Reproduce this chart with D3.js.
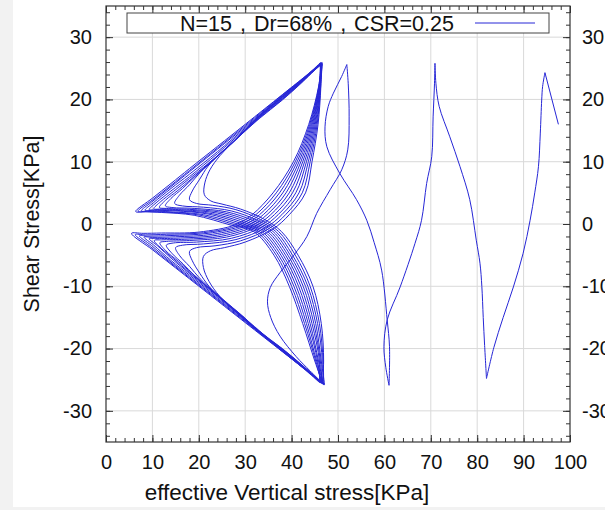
<!DOCTYPE html>
<html>
<head>
<meta charset="utf-8">
<script src="https://cdn.jsdelivr.net/npm/d3@7"></script>
<style>
  html, body { margin: 0; padding: 0; background: #f2f2f2; }
  svg { display: block; }
  text { font-family: "Liberation Sans", Arial, Helvetica, sans-serif; fill: #111; }
</style>
</head>
<body>
<svg id="chart" width="605" height="510"></svg>
<script>
// ---- labels and ticks ----
const legendLabel = "N=15 , Dr=68% , CSR=0.25";
const xTitle = "effective Vertical stress[KPa]";
const yTitle = "Shear Stress[KPa]";
const xTickValues = [0, 10, 20, 30, 40, 50, 60, 70, 80, 90, 100];
const yTickValues = [-30, -20, -10, 0, 10, 20, 30];
const xGridValues = [10, 20, 30, 40, 50, 60, 70, 80, 90];
const yGridValues = [-30, -20, -10, 0, 10, 20, 30];

// ---- stress path [effective vertical stress, shear stress] in kPa ----
// first cycles, before the path settles into cyclic mobility
const earlyLegs = [
  [[97.5, 16.0], [94.6, 24.3]],
  [[94.6, 24.3], [94.1, 22.1], [93.9, 19.9], [93.6, 14.6], [93.2, 9.2], [92.4, 5.0], [91.4, 0.6],
   [89.9, -4.7], [87.8, -10.1], [85.6, -15.0], [83.6, -19.8], [82.0, -24.8]],
  [[82.0, -24.8], [81.6, -19.5], [81.3, -15.0], [81.0, -10.0], [80.6, -6.3], [79.8, -2.6],
   [78.4, 3.9], [76.3, 9.2], [74.1, 14.0], [71.8, 18.9], [71.1, 22.6], [70.9, 25.8]],
  [[70.9, 25.8], [70.8, 22.6], [70.5, 17.2], [70.2, 10.8], [69.1, 6.5], [68.0, 0.6], [66.6, -3.1],
   [63.4, -10.1], [60.6, -15.4], [59.9, -19.7], [60.3, -23.0], [61.0, -25.9]],
  [[61.0, -25.9], [61.1, -19.7], [60.6, -15.4], [59.4, -7.4], [57.8, -3.0], [56.2, 0.6], [54.0, 3.9],
   [50.4, 8.1], [47.6, 12.4], [47.2, 15.6], [47.9, 18.9], [49.0, 21.0], [50.8, 23.7], [51.9, 25.6]],
  [[51.9, 25.6], [52.2, 22.6], [52.4, 17.2], [52.1, 11.9], [50.8, 8.7], [48.3, 5.5], [45.4, 1.7],
   [43.3, -2.0], [40.5, -5.0], [37.5, -7.8], [35.4, -10.2], [34.8, -12.5], [35.5, -15.0],
   [37.5, -18.0], [41.0, -21.3], [44.0, -23.6], [46.6, -25.5]]
];

// loading legs: from the negative shear peak up to the positive one
const riseLegs = [
  [[46.6, -25.5], [46.9, -22], [46.4, -16], [44.6, -10], [41.4, -5], [37.8, -1.2], [34.0, 0.8], [29.0, 2.4],
   [25.0, 3.2], [22.6, 3.7], [21.2, 4.7], [21.3, 6.6], [22.4, 8.7], [24.6, 11.0], [28.5, 13.9],
   [33, 16.9], [38, 19.9], [42.5, 22.9], [46.4, 25.8]],
  [[46.9, -25.7], [46.8, -22], [46.0, -16], [44.0, -10], [40.8, -5], [37.2, -1.2], [33.3, 0.7], [28, 2.3],
   [23, 3.0], [19.5, 3.3], [18.0, 3.9], [18.6, 5.3], [20.2, 7.2], [22.0, 9.3], [25.0, 11.6],
   [29.5, 14.6], [33, 17.0], [38, 20.0], [42.5, 23.0], [46.6, 25.9]],
  [[46.3, -25.4], [46.6, -22], [45.6, -16], [43.5, -10], [40.2, -5], [36.6, -1.2], [32.6, 0.6], [27, 2.1],
   [21, 2.7], [16.5, 2.9], [14.8, 3.3], [15.8, 4.6], [18.0, 6.3], [20.2, 8.2], [23.5, 10.5],
   [28.5, 13.9], [33, 17.1], [38, 20.1], [42.5, 23.05], [46.2, 25.7]],
  [[47.1, -25.8], [46.4, -22], [45.2, -16], [43.0, -10], [39.7, -5], [36.0, -1.2], [31.9, 0.5], [26, 1.95],
   [19, 2.5], [14.2, 2.65], [12.8, 2.9], [14.0, 4.1], [16.5, 5.7], [19.0, 7.5], [22.5, 9.9],
   [28, 13.6], [33, 17.2], [38, 20.2], [42.5, 23.1], [46.5, 25.8]],
  [[46.5, -25.6], [46.2, -22], [44.8, -16], [42.5, -10], [39.2, -5], [35.4, -1.2], [31.2, 0.4], [25, 1.85],
   [18, 2.35], [13.0, 2.5], [11.5, 2.65], [12.8, 3.8], [15.5, 5.4], [18.5, 7.3], [22, 9.6],
   [27.5, 13.3], [33, 17.3], [38, 20.3], [42.5, 23.15], [46.3, 25.9]],
  [[46.0, -25.3], [46.0, -22], [44.4, -16], [42.0, -10], [38.7, -5], [34.8, -1.2], [30.5, 0.3], [24, 1.75],
   [17, 2.25], [12, 2.4], [10.3, 2.45], [11.8, 3.6], [14.5, 5.2], [18, 7.3], [22, 9.7],
   [27.5, 13.2], [33, 17.4], [38, 20.4], [42.5, 23.2], [46.6, 25.7]],
  [[46.8, -25.6], [45.8, -22], [44.0, -16], [41.5, -10], [38.2, -5], [34.2, -1.2], [29.8, 0.2], [23, 1.65],
   [16, 2.15], [11, 2.3], [9.3, 2.3], [10.8, 3.4], [14, 5.3], [18, 7.6], [24, 11.3],
   [30, 15.2], [38, 20.45], [42.5, 23.25], [46.4, 25.8]],
  [[46.2, -25.5], [45.6, -22], [43.6, -16], [41.0, -10], [37.7, -5], [33.6, -1.2], [29.1, 0.1], [22, 1.6],
   [15, 2.1], [10, 2.2], [8.4, 2.2], [10.2, 3.4], [14, 5.7], [18, 8.0], [24, 11.6],
   [30, 15.4], [38, 20.5], [42.5, 23.3], [46.2, 25.9]],
  [[46.9, -25.8], [45.4, -22], [43.2, -16], [40.5, -10], [37.2, -5], [33.0, -1.2], [28.4, 0.0], [21, 1.5],
   [14, 1.95], [9.5, 2.1], [7.6, 2.1], [9.8, 3.5], [14, 6.0], [18, 8.4], [24, 12.0],
   [30, 15.6], [38, 20.6], [42.5, 23.35], [46.5, 25.7]],
  [[46.4, -25.4], [45.2, -22], [42.8, -16], [40.0, -10], [36.7, -5], [32.4, -1.2], [27.7, -0.1], [20, 1.45],
   [13, 1.9], [9, 2.0], [6.9, 2.05], [10, 3.85], [14, 6.2], [18, 8.6], [24, 12.2],
   [30, 15.8], [38, 20.7], [42.5, 23.4], [46.3, 25.8]],
  [[46.7, -25.6], [45.0, -22], [42.4, -16], [39.5, -10], [36.2, -5], [31.8, -1.2], [27.0, -0.2], [19, 1.4],
   [12, 1.85], [8.5, 1.95], [6.4, 2.0], [10, 4.14], [14, 6.5], [18, 8.9], [24, 12.45],
   [30, 16.0], [38, 20.77], [42.5, 23.45], [46.5, 25.9]]
];

// unloading legs: from the positive shear peak down to the negative one
const fallLegs = [
  [[46.4, 25.8], [46.3, 22], [45.7, 16], [44.4, 10], [43.0, 5], [39.5, 1.5], [36.0, -0.8], [30, -2.9],
   [25.5, -3.8], [22.5, -4.3], [21.0, -5.2], [21.0, -7.0], [22.2, -9.2], [24.5, -11.6], [28.5, -14.4],
   [33, -17.2], [38, -20.0], [42.5, -22.8], [46.9, -25.7]],
  [[46.6, 25.9], [46.25, 22], [45.5, 16], [44.0, 10], [42.3, 5], [38.7, 1.5], [35.2, -0.7], [29, -2.7],
   [23.5, -3.5], [19.5, -3.8], [18.0, -4.4], [18.6, -5.9], [20.2, -7.9], [22.2, -10.0], [25.2, -12.2],
   [29.5, -14.8], [33, -17.25], [38, -20.05], [42.5, -22.85], [46.3, -25.4]],
  [[46.2, 25.7], [46.2, 22], [45.3, 16], [43.6, 10], [41.6, 5], [37.9, 1.5], [34.4, -0.6], [28, -2.5],
   [21, -3.2], [16.5, -3.4], [15.0, -3.8], [15.9, -5.1], [18.0, -6.8], [20.3, -8.8], [23.5, -11.0],
   [28.5, -14.2], [33, -17.3], [38, -20.1], [42.5, -22.9], [47.1, -25.8]],
  [[46.5, 25.8], [46.15, 22], [45.1, 16], [43.2, 10], [40.9, 5], [37.1, 1.5], [33.6, -0.5], [27, -2.3],
   [19.5, -2.9], [14.5, -3.05], [13.0, -3.4], [14.2, -4.7], [16.6, -6.4], [19.0, -8.2], [22.5, -10.5],
   [28, -14.0], [33, -17.35], [38, -20.15], [42.5, -22.95], [46.5, -25.6]],
  [[46.3, 25.9], [46.1, 22], [44.9, 16], [42.8, 10], [40.2, 5], [36.3, 1.5], [32.8, -0.4], [26, -2.1],
   [18, -2.65], [13, -2.8], [11.6, -3.0], [12.9, -4.3], [15.6, -6.0], [18.5, -7.9], [22, -10.2],
   [27.5, -13.8], [33, -17.4], [38, -20.2], [42.5, -23.0], [46.0, -25.3]],
  [[46.6, 25.7], [46.05, 22], [44.7, 16], [42.4, 10], [39.5, 5], [35.5, 1.5], [32.0, -0.35], [25, -1.95],
   [17, -2.45], [12, -2.55], [10.4, -2.65], [11.9, -3.9], [14.6, -5.6], [18, -7.8], [22, -10.2],
   [27.5, -13.7], [33, -17.2], [38, -20.25], [42.5, -23.05], [46.8, -25.6]],
  [[46.4, 25.8], [46.0, 22], [44.5, 16], [42.0, 10], [38.8, 5], [34.7, 1.5], [31.2, -0.3], [24, -1.8],
   [16, -2.25], [11, -2.35], [9.3, -2.35], [11.1, -3.5], [14.2, -5.6], [18, -7.95], [24, -11.6],
   [30, -15.2], [38, -20.3], [42.5, -23.0], [46.2, -25.5]],
  [[46.2, 25.9], [45.95, 22], [44.3, 16], [41.6, 10], [38.1, 5], [33.9, 1.5], [30.4, -0.25], [23, -1.65],
   [15, -2.05], [10, -2.15], [8.2, -2.1], [10.3, -3.4], [14, -5.85], [18, -8.2], [24, -11.8],
   [30, -15.4], [38, -20.35], [42.5, -23.05], [46.9, -25.8]],
  [[46.5, 25.7], [45.9, 22], [44.1, 16], [41.2, 10], [37.4, 5], [33.1, 1.5], [29.6, -0.2], [22, -1.5],
   [14, -1.85], [9, -1.95], [7.2, -1.9], [9.8, -3.45], [14, -6.1], [18, -8.45], [24, -12.0],
   [30, -15.55], [38, -20.4], [42.5, -23.1], [46.4, -25.4]],
  [[46.3, 25.8], [45.85, 22], [43.9, 16], [40.8, 10], [36.7, 5], [32.3, 1.5], [28.8, -0.15], [21, -1.4],
   [13, -1.65], [8.5, -1.75], [6.3, -1.7], [9.5, -3.6], [14, -6.3], [18, -8.65], [24, -12.15],
   [30, -15.7], [38, -20.45], [42.5, -23.12], [46.7, -25.6]],
  [[46.5, 25.9], [45.8, 22], [43.7, 16], [40.4, 10], [36.0, 5], [31.5, 1.5], [28.0, -0.1], [20, -1.3],
   [12, -1.45], [8, -1.5], [5.5, -1.5], [10, -4.13], [14, -6.47], [18, -8.81], [24, -12.32],
   [30, -15.83], [38, -20.5], [42.5, -23.15], [46.1, -25.5]]
];

// ---- layout ----
const svg = d3.select("#chart");
const W = 605, H = 510;
const plot = { left: 106, right: 570, top: 6, bottom: 442 };

svg.append("rect").attr("x", 13).attr("y", 0).attr("width", W - 13).attr("height", 507).attr("fill", "#ffffff");

const x = d3.scaleLinear().domain([0, 100]).range([plot.left, plot.right]);
const y = d3.scaleLinear().domain([-35, 35]).range([plot.bottom, plot.top]);

// grid
const grid = svg.append("g").attr("stroke", "#d9d9d9").attr("stroke-width", 1);
grid.selectAll("line.gx").data(xGridValues).join("line")
  .attr("x1", d => x(d)).attr("x2", d => x(d))
  .attr("y1", plot.top).attr("y2", plot.bottom);
grid.selectAll("line.gy").data(yGridValues).join("line")
  .attr("x1", plot.left).attr("x2", plot.right)
  .attr("y1", d => y(d)).attr("y2", d => y(d));

// stress path
const line = d3.line()
  .x(d => x(d[0])).y(d => y(d[1]))
  .curve(d3.curveCatmullRom.alpha(0.5));

const legs = [...earlyLegs];
riseLegs.forEach((leg, i) => { legs.push(leg); legs.push(fallLegs[i]); });

svg.append("g")
  .attr("fill", "none")
  .attr("stroke", "#2626d6")
  .attr("stroke-width", 1)
  .attr("stroke-linejoin", "round")
  .selectAll("path").data(legs).join("path")
  .attr("d", line);

// axes: ticks point inward on all four sides
const minorX = d3.range(0, 101, 2);
const minorY = d3.range(-34, 35, 2);
const plain = d => String(d);
function styleAxis(g) {
  g.select(".domain").remove();
  g.selectAll(".tick line").attr("stroke", "#333").attr("stroke-width", 1);
  g.selectAll(".tick text").attr("font-size", 20).attr("fill", "#111")
    .attr("font-family", "'Liberation Sans', Arial, Helvetica, sans-serif");
}
svg.append("g").attr("transform", `translate(0,${plot.bottom})`)
  .call(d3.axisBottom(x).tickValues(minorX).tickSize(-4).tickFormat(""))
  .call(styleAxis);
svg.append("g").attr("transform", `translate(0,${plot.bottom})`)
  .call(d3.axisBottom(x).tickValues(xTickValues).tickSize(-7).tickPadding(13).tickFormat(plain))
  .call(styleAxis);
svg.append("g").attr("transform", `translate(0,${plot.top})`)
  .call(d3.axisTop(x).tickValues(minorX).tickSize(-4).tickFormat(""))
  .call(styleAxis);
svg.append("g").attr("transform", `translate(0,${plot.top})`)
  .call(d3.axisTop(x).tickValues(xTickValues).tickSize(-7).tickFormat(""))
  .call(styleAxis);
svg.append("g").attr("transform", `translate(${plot.left},0)`)
  .call(d3.axisLeft(y).tickValues(minorY).tickSize(-4).tickFormat(""))
  .call(styleAxis);
svg.append("g").attr("transform", `translate(${plot.left},0)`)
  .call(d3.axisLeft(y).tickValues(yTickValues).tickSize(-7).tickPadding(14).tickFormat(plain))
  .call(styleAxis);
svg.append("g").attr("transform", `translate(${plot.right},0)`)
  .call(d3.axisRight(y).tickValues(minorY).tickSize(-4).tickFormat(""))
  .call(styleAxis);
svg.append("g").attr("transform", `translate(${plot.right},0)`)
  .call(d3.axisRight(y).tickValues(yTickValues).tickSize(-7).tickPadding(12).tickFormat(plain))
  .call(styleAxis);

// frame
svg.append("rect")
  .attr("x", plot.left).attr("y", plot.top)
  .attr("width", plot.right - plot.left).attr("height", plot.bottom - plot.top)
  .attr("fill", "none").attr("stroke", "#333").attr("stroke-width", 1.2);

// legend
const legend = svg.append("g");
legend.append("rect").attr("x", 127).attr("y", 13).attr("width", 422).attr("height", 20)
  .attr("fill", "#fff").attr("stroke", "#444").attr("stroke-width", 1);
legend.append("text").attr("x", 180).attr("y", 30.5).attr("font-size", 21.5)
  .attr("word-spacing", 2).attr("xml:space", "preserve").text(legendLabel);
legend.append("line").attr("x1", 475).attr("x2", 535).attr("y1", 23).attr("y2", 23)
  .attr("stroke", "#2626d6").attr("stroke-width", 1);

// axis titles
svg.append("text").attr("x", 287).attr("y", 500)
  .attr("text-anchor", "middle").attr("font-size", 22.5).text(xTitle);
svg.append("text").attr("transform", `translate(39,${y(0)}) rotate(-90)`)
  .attr("text-anchor", "middle").attr("font-size", 21.5).text(yTitle);
</script>
</body>
</html>
